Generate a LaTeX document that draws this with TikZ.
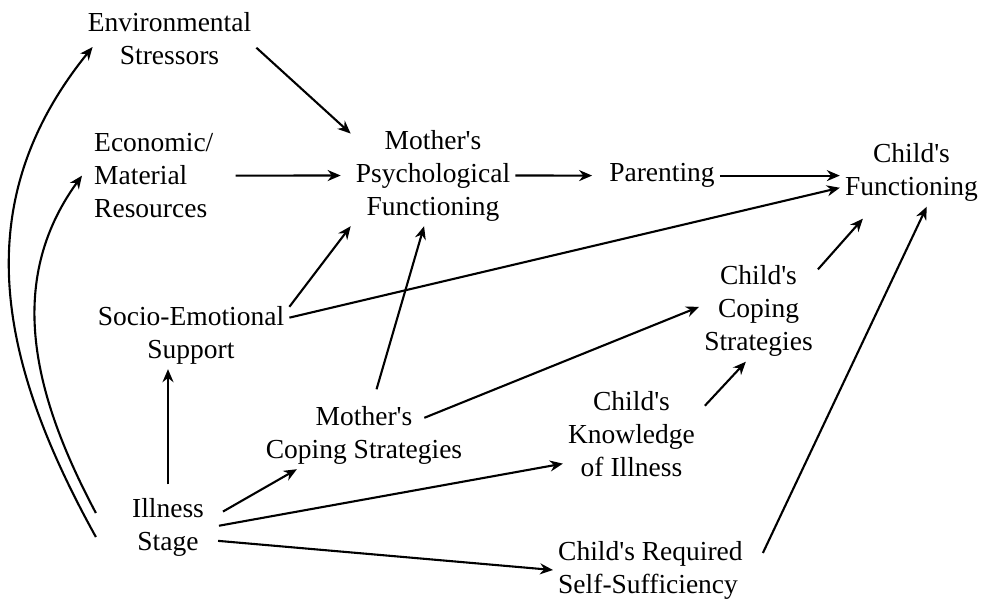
\documentclass[tikz,border=0pt]{standalone}
\usepackage{fontspec}
\setmainfont{Liberation Serif}[Ligatures=TeXOff]
\usetikzlibrary{arrows.meta}
\begin{document}
\begin{tikzpicture}[x=1pt,y=-1pt,
    lbl/.style={inner sep=5pt,align=center,font=\fontsize{27.5}{33}\selectfont},
    arr/.style={-{Stealth[length=13pt,width=11pt]},line width=2.1pt}]
  \useasboundingbox (0,0) rectangle (984,598);
  \node[lbl](env) at (169.5,38.6) {Environmental\\Stressors};
  \node[lbl,align=left,anchor=west](econ) at (89,175.6) {Economic/\\Material\\Resources};
  \node[lbl](mpsy) at (433,175.5) {Mother's\\Psychological\\Functioning};
  \node[lbl](par) at (662,175.6) {Parenting};
  \node[lbl](cfun) at (911.5,172.5) {Child's\\Functioning};
  \node[lbl](soc) at (191,335) {Socio-Emotional\\Support};
  \node[lbl](ccop) at (758.5,311) {Child's\\Coping\\Strategies};
  \node[lbl](mcop) at (364,435) {Mother's\\Coping Strategies};
  \node[lbl](know) at (631.5,434.5) {Child's\\Knowledge\\of Illness};
  \node[lbl](ill) at (168,527.5) {Illness\\Stage};
  \node[lbl,align=left,anchor=west](req) at (553,570) {Child's Required\\Self-Sufficiency};

  \draw[arr] (env.-6) -- (mpsy.153);
  \draw[arr,shorten <=17pt,shorten >=10pt] (econ.east) -- (mpsy.west);
  \draw[arr,shorten >=12pt] (mpsy.east) -- (par.west);
  \draw[arr] (par.east) -- (par.east -| cfun.west);
  \draw[arr] (soc.16) -- (mpsy.south west);
  \draw[arr] (soc.10) -- (cfun.192);
  \draw[arr,shorten <=12pt] (mcop.75) -- (mpsy.-100);
  \draw[arr] ([xshift=-43pt,yshift=-17pt]mcop.north east) -- (ccop.176);
  \draw[arr,shorten <=9pt] (ill.north) -- (ill.north |- soc.south);
  \draw[arr,shorten <=16pt] (ill.11) -- (mcop.207);
  \draw[arr,shorten <=10pt] (ill.east) -- (know.203);
  \draw[arr,shorten <=9pt] (ill.-17) -- (req.west);
  \draw[arr,shorten <=7pt] (know.19) -- (ccop.256);
  \draw[arr,shorten >=16pt] (ccop.35) -- (cfun.222);
  \draw[arr] ([xshift=15pt,yshift=17pt]req.east) -- (cfun.-66);
  \draw[arr] ([xshift=-31pt,yshift=-9.5pt]ill.west) to[out=119,in=231,looseness=1.05] ([xshift=10pt,yshift=-8.4pt]env.west);
  \draw[arr] ([xshift=-31pt,yshift=14.5pt]ill.west) to[out=118,in=234] ([xshift=-7pt]econ.west);
\end{tikzpicture}
\end{document}
